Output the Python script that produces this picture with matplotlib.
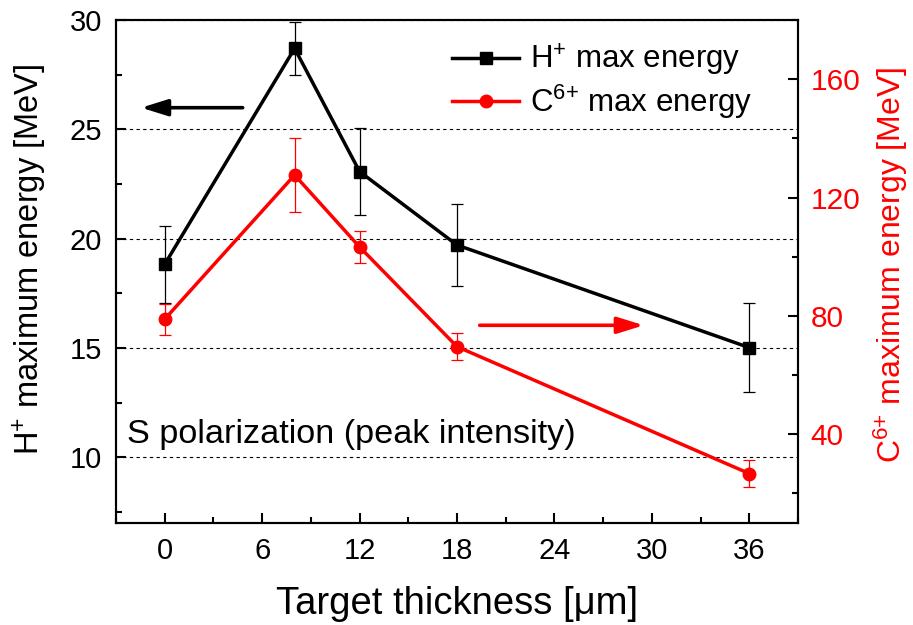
import matplotlib
matplotlib.use("Agg")
import matplotlib.pyplot as plt
from matplotlib.ticker import MultipleLocator
from matplotlib.lines import Line2D

plt.rcParams['font.family'] = ['Liberation Sans', 'DejaVu Sans']
plt.rcParams['mathtext.fontset'] = 'custom'
plt.rcParams['mathtext.rm'] = 'Liberation Sans'
plt.rcParams['mathtext.it'] = 'Liberation Sans:italic'
plt.rcParams['mathtext.bf'] = 'Liberation Sans:bold'

# data
thickness = [0, 8, 12, 18, 36]
h_energy = [18.83, 28.7, 23.07, 19.71, 15.02]
h_err = [1.75, 1.2, 1.97, 1.88, 2.04]
c_energy = [78.9, 127.6, 103.3, 69.6, 26.7]
c_err = [5.2, 12.5, 5.3, 4.5, 4.7]
x_ticks = [0, 6, 12, 18, 24, 30, 36]

fig = plt.figure(figsize=(9.13, 6.25), dpi=100)
ax = fig.add_axes([116/913, 1-523/625, (798-116)/913, (523-20)/625])
ax2 = ax.twinx()

lw_sp = 1.5
for a in (ax, ax2):
    for s in a.spines.values():
        s.set_linewidth(lw_sp)

ax.set_xlim(-3, 39)
ax.set_ylim(7, 30)
ax2.set_ylim(10, 180)

ax.grid(axis='y', which='major', linestyle=(0, (3, 3)), linewidth=0.8, color='black')
ax.set_axisbelow(True)

ax.errorbar(thickness, h_energy, yerr=h_err, color='black', lw=2.5,
            marker='s', markersize=8, ecolor='black', elinewidth=0.9,
            capsize=4.3, capthick=0.9, zorder=3)
ax2.errorbar(thickness, c_energy, yerr=c_err, color='red', lw=2.5,
             marker='o', markersize=9, ecolor='red', elinewidth=0.9,
             capsize=4.3, capthick=0.9, zorder=3)

ax.xaxis.set_minor_locator(MultipleLocator(3))
ax.set_xticks(x_ticks)
ax.yaxis.set_major_locator(MultipleLocator(5))
ax.yaxis.set_minor_locator(MultipleLocator(2.5))
ax2.yaxis.set_major_locator(MultipleLocator(40))
ax2.yaxis.set_minor_locator(MultipleLocator(20))

ax.tick_params(axis='both', which='major', direction='in', length=7, width=1.5,
               labelsize=21, top=False, right=False)
ax.tick_params(axis='both', which='minor', direction='in', length=4, width=1.5,
               top=False, right=False)
ax.tick_params(axis='y', which='major', pad=10)
ax.tick_params(axis='x', which='major', pad=10)
ax2.tick_params(axis='y', which='major', direction='in', length=7, width=1.5,
                labelsize=21.5, labelcolor='red', pad=9)
ax2.tick_params(axis='y', which='minor', direction='in', length=4, width=1.5)

ax.set_xlabel('Target thickness [μm]', fontsize=27.5, labelpad=15)
ax.set_ylabel(r'H$^{+}$ maximum energy [MeV]', fontsize=23.5)
ax2.set_ylabel(r'C$^{6{+}}$ maximum energy [MeV]', fontsize=23, color='red')
ax.yaxis.set_label_coords((49-116)/682, (523-259.5)/503)
ax2.yaxis.set_label_coords((872-116)/682, (523-265)/503)

ax.text(-2.3, 10.66, 'S polarization (peak intensity)', fontsize=24.7, va='baseline', ha='left')

ax.annotate('', xy=(-1.45, 25.99), xytext=(4.8, 25.99),
            arrowprops=dict(arrowstyle='-|>,head_length=1.6,head_width=0.5', color='black',
                            lw=2.6, shrinkA=0, shrinkB=0))
ax.annotate('', xy=(29.5, 16.04), xytext=(19.4, 16.04),
            arrowprops=dict(arrowstyle='-|>,head_length=1.6,head_width=0.5', color='red',
                            lw=2.6, shrinkA=0, shrinkB=0))

handles = [Line2D([], [], color='black', lw=2.5, marker='s', markersize=8),
           Line2D([], [], color='red', lw=2.5, marker='o', markersize=9)]
labels = [r'H$^{+}$ max energy', r'C$^{6{+}}$ max energy']
ax2.legend(handles, labels, loc='upper left',
           bbox_to_anchor=((452-116)/682, (523-42)/503), frameon=False, fontsize=22.5,
           handlelength=2.15, handletextpad=0.35, labelspacing=0.15,
           borderpad=0, borderaxespad=0)

fig.savefig('out.png', dpi=100)
